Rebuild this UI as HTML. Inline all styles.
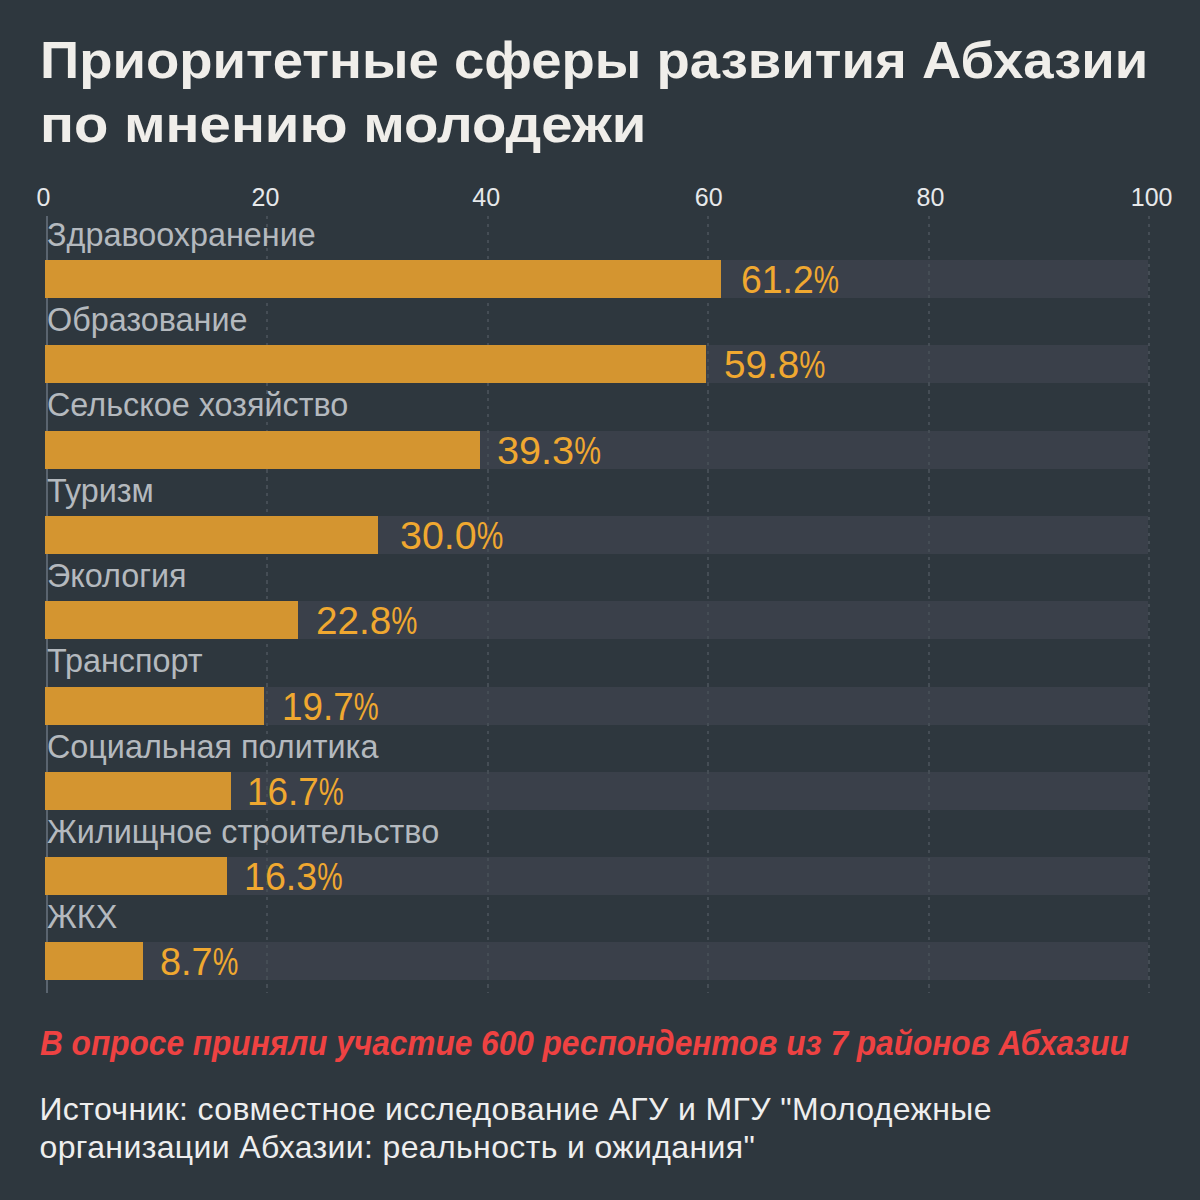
<!DOCTYPE html>
<html><head><meta charset="utf-8"><style>
html,body{margin:0;padding:0;}
body{width:1200px;height:1200px;background:#2e373e;position:relative;overflow:hidden;font-family:"Liberation Sans",sans-serif;}
.title{position:absolute;left:40px;color:#f0eeea;font-weight:bold;font-size:52px;line-height:52px;white-space:nowrap;transform-origin:0 0;}
.t1{top:34px;transform:scaleX(1.048);}
.t2{top:98px;transform:scaleX(1.082);}
.grid{position:absolute;top:216px;height:777px;width:2px;background:repeating-linear-gradient(to bottom,#454d55 0px,#454d55 3.3px,transparent 3.3px,transparent 7.92px);}
.track{position:absolute;left:45.0px;width:1103.0px;height:38.0px;background:#3a404a;}
.bar{position:absolute;left:45.0px;height:38.0px;background:#d49530;}
.axis{position:absolute;left:46.3px;top:216px;width:1.6px;height:777px;background:#5a646f;}
.cat{position:absolute;left:46.5px;font-size:33px;line-height:33px;color:#b4b9be;white-space:nowrap;transform:scaleX(0.98);transform-origin:0 0;}
.val{position:absolute;font-size:38px;line-height:38px;color:#f0a830;white-space:nowrap;transform-origin:0 0;}
.pc{display:inline-block;transform:scaleX(0.76);transform-origin:0 0;}
.tick{position:absolute;top:185px;width:100px;text-align:center;font-size:25px;line-height:25px;color:#e6e8ea;}
.note{position:absolute;left:40px;top:1025px;font-size:35px;line-height:35px;font-weight:bold;font-style:italic;color:#ee4242;white-space:nowrap;transform:scaleX(0.903);transform-origin:0 0;}
.src{position:absolute;left:39.5px;top:1089.5px;font-size:32px;line-height:38.2px;color:#eeeeee;white-space:nowrap;letter-spacing:0.37px;}
</style></head><body>
<div class="title t1">Приоритетные сферы развития Абхазии</div><div class="title t2">по мнению молодежи</div>
<div class="axis"></div>
<div class="track" style="top:260.00px"></div>
<div class="track" style="top:345.30px"></div>
<div class="track" style="top:430.60px"></div>
<div class="track" style="top:515.90px"></div>
<div class="track" style="top:601.20px"></div>
<div class="track" style="top:686.50px"></div>
<div class="track" style="top:771.80px"></div>
<div class="track" style="top:857.10px"></div>
<div class="track" style="top:942.40px"></div>
<div class="grid" style="left:266.25px"></div>
<div class="grid" style="left:486.50px"></div>
<div class="grid" style="left:707.00px"></div>
<div class="grid" style="left:927.50px"></div>
<div class="grid" style="left:1147.75px"></div>
<div class="bar" style="top:260.00px;width:676.38px"></div>
<div class="bar" style="top:345.30px;width:660.96px"></div>
<div class="bar" style="top:430.60px;width:435.13px"></div>
<div class="bar" style="top:515.90px;width:332.68px"></div>
<div class="bar" style="top:601.20px;width:253.36px"></div>
<div class="bar" style="top:686.50px;width:219.22px"></div>
<div class="bar" style="top:771.80px;width:186.17px"></div>
<div class="bar" style="top:857.10px;width:181.76px"></div>
<div class="bar" style="top:942.40px;width:98.04px"></div>
<div class="cat" style="top:217.80px">Здравоохранение</div>
<div class="val" style="top:261.00px;left:740.52px;transform:scaleX(0.9833)">61.2<span class="pc">%</span></div>
<div class="cat" style="top:303.10px">Образование</div>
<div class="val" style="top:346.30px;left:724.17px;transform:scaleX(1.018)">59.8<span class="pc">%</span></div>
<div class="cat" style="top:388.40px">Сельское хозяйство</div>
<div class="val" style="top:431.60px;left:497.45px;transform:scaleX(1.0433)">39.3<span class="pc">%</span></div>
<div class="cat" style="top:473.70px">Туризм</div>
<div class="val" style="top:516.90px;left:400.10px;transform:scaleX(1.0361)">30.0<span class="pc">%</span></div>
<div class="cat" style="top:559.00px">Экология</div>
<div class="val" style="top:602.20px;left:315.84px;transform:scaleX(1.018)">22.8<span class="pc">%</span></div>
<div class="cat" style="top:644.30px">Транспорт</div>
<div class="val" style="top:687.50px;left:282.30px;transform:scaleX(0.9688)">19.7<span class="pc">%</span></div>
<div class="cat" style="top:729.60px">Социальная политика</div>
<div class="val" style="top:772.80px;left:246.65px;transform:scaleX(0.9698)">16.7<span class="pc">%</span></div>
<div class="cat" style="top:814.90px">Жилищное строительство</div>
<div class="val" style="top:858.10px;left:243.69px;transform:scaleX(0.9896)">16.3<span class="pc">%</span></div>
<div class="cat" style="top:900.20px">ЖКХ</div>
<div class="val" style="top:943.40px;left:159.74px;transform:scaleX(0.9974)">8.7<span class="pc">%</span></div>
<div class="tick" style="left:-6.50px">0</div>
<div class="tick" style="left:215.40px">20</div>
<div class="tick" style="left:436.25px">40</div>
<div class="tick" style="left:658.75px">60</div>
<div class="tick" style="left:880.40px">80</div>
<div class="tick" style="left:1101.60px">100</div>
<div class="note">В опросе приняли участие 600 респондентов из 7 районов Абхазии</div>
<div class="src">Источник: совместное исследование АГУ и МГУ "Молодежные<br>организации Абхазии: реальность и ожидания"</div>
</body></html>
